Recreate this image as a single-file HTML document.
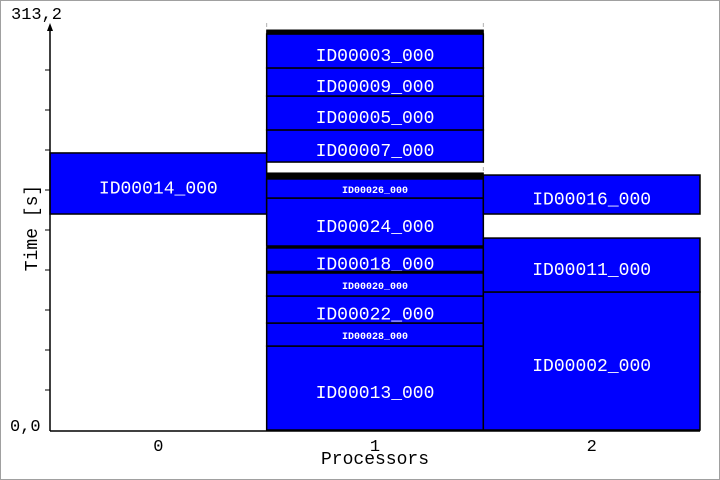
<!DOCTYPE html>
<html><head><meta charset="utf-8">
<style>
html,body{margin:0;padding:0;background:#fff;}
#wrap{position:relative;width:718px;height:478px;border:1px solid #a0a0a0;overflow:hidden;}
svg text{font-family:"Liberation Mono",monospace;}
</style></head>
<body>
<div id="wrap">
<svg id="chart" width="718" height="478" viewBox="1 1 718 478"></svg>
</div>
<script>
const processors = ["0","1","2"];
const taskNames = ["ID00014_000","ID00013_000","ID00028_000","ID00022_000","ID00020_000","ID00018_000","ID00024_000","ID00026_000","ID00007_000","ID00005_000","ID00009_000","ID00003_000","ID00002_000","ID00011_000","ID00016_000","tiny-a","tiny-b","tiny-c","tiny-d"];
const taskProc = [0,1,1,1,1,1,1,1,1,1,1,1,2,2,2,1,1,1,1];
const taskStart = [166.2,0,64.6,82.3,103.1,122.0,141.6,178.5,206.2,230.9,257.0,278.6,0,106.2,166.2,120.8,140.1,193.2,304.7];
const taskEnd = [213.2,64.6,82.3,103.1,120.8,140.1,178.5,193.2,230.9,257.0,278.6,304.7,106.2,147.7,196.2,122.0,141.6,197.8,307.8];
const taskLabelSmall = [0,0,1,0,1,0,0,1,0,0,0,0,0,0,0,0,0,0,0];
const yTickLabels = ["0,0","313,2"];
const yMax = 313.2;

const NS="http://www.w3.org/2000/svg";
const svg=document.getElementById('chart');
const X0=50,X1=700,Y0=430,YT=23;
const colW=(X1-X0)/processors.length;
function xScale(i){return X0+i*colW;}
function yScale(v){return Y0-(v/yMax)*(Y0-YT);}
function mk(tag,attrs,parent){const e=document.createElementNS(NS,tag);for(const k in attrs)e.setAttribute(k,attrs[k]);(parent||svg).appendChild(e);return e;}

[1,2].forEach(i=>{
  const g=mk('line',{x1:xScale(i),x2:xScale(i),y1:YT,y2:Y0,stroke:'#b0b0b0','stroke-dasharray':'4,4'});
  
  
});

for(let i=0;i<taskNames.length;i++){
  const tiny=taskNames[i].startsWith('tiny');
  const x=xScale(taskProc[i]), y1=yScale(taskEnd[i]), y2=yScale(taskStart[i]);
  const r=mk('rect',{x:x,y:y1,width:colW,height:y2-y1,fill:tiny?'#000':'#0000ff',stroke:'#000','stroke-width':tiny?1:1.5});
  
  
  if(!tiny){
    const small=taskLabelSmall[i];
    const t=mk('text',{x:x+colW/2,y:(y1+y2)/2+(small?4.5:10),'text-anchor':'middle',fill:'#fff','font-size':small?10:18,'font-weight':small?'bold':'normal'});
    t.textContent=taskNames[i];
    
    
  }
}

const ya=mk('line',{x1:X0,x2:X0,y1:YT+3,y2:Y0+1,stroke:'#000','stroke-width':1.5});


const arr=mk('polygon',{points:`${X0-3},${YT+8} ${X0+3},${YT+8} ${X0},${YT}`,fill:'#000'});


const xa=mk('line',{x1:X0,x2:X1,y1:Y0+1,y2:Y0+1,stroke:'#000','stroke-width':1.5});


for(let k=0;k<9;k++){
  const yy=70+k*40;
  const tk=mk('line',{x1:X0-5,x2:X0,y1:yy,y2:yy,stroke:'#000'});
  
  
}
const yl0=mk('text',{x:10,y:431,'font-size':17,fill:'#000'});yl0.textContent=yTickLabels[0];


const yl1=mk('text',{x:11,y:19,'font-size':17,fill:'#000'});yl1.textContent=yTickLabels[1];


processors.forEach((p,i)=>{
  const t=mk('text',{x:xScale(i)+colW/2,y:451,'text-anchor':'middle','font-size':17,fill:'#000'});
  t.textContent=p;
  
  
});
const xt=mk('text',{x:xScale(1)+colW/2,y:464,'text-anchor':'middle','font-size':18,fill:'#000'});
xt.textContent='Processors';


const yt=mk('text',{x:0,y:0,'text-anchor':'middle','font-size':18,fill:'#000',transform:'translate(37,228) rotate(-90)'});
yt.textContent='Time [s]';


</script>
</body></html>
